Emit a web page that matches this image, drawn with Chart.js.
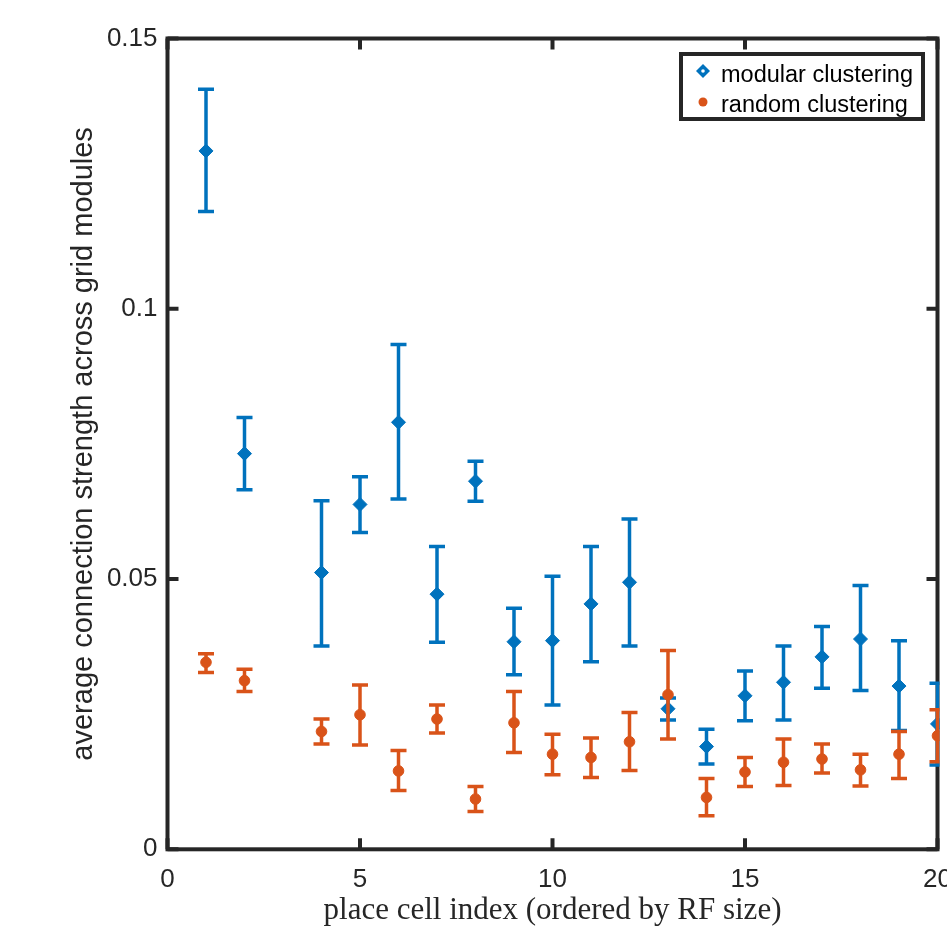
<!DOCTYPE html>
<html>
<head>
<meta charset="utf-8">
<title>connection strength</title>
<script src="https://cdn.jsdelivr.net/npm/chart.js@4.4.1/dist/chart.umd.min.js"></script>
<style>
  html, body { margin: 0; padding: 0; background: #fff; overflow: hidden; }
  #wrap { width: 1000px; height: 938px; }
</style>
</head>
<body>
<div id="wrap"><canvas id="strengthChart" width="1000" height="938"></canvas></div>
<script>
// place cell index (no cell 3 in the figure)
const cellIndex = [1, 2, 4, 5, 6, 7, 8, 9, 10, 11, 12, 13, 14, 15, 16, 17, 18, 19, 20];

// modular clustering: mean and error bar ends
const modularMean = [0.1292, 0.0732, 0.0512, 0.0638, 0.0790, 0.0472, 0.0681, 0.0384, 0.0386, 0.0454,
  0.0494, 0.0260, 0.0190, 0.0284, 0.0309, 0.0356, 0.0389, 0.0302, 0.0232];
const modularHigh = [0.1406, 0.0799, 0.0645, 0.0689, 0.0934, 0.0560, 0.0718, 0.0446, 0.0505, 0.0560,
  0.0611, 0.0280, 0.0222, 0.0330, 0.0376, 0.0412, 0.0488, 0.0386, 0.0307];
const modularLow = [0.1180, 0.0665, 0.0376, 0.0586, 0.0648, 0.0383, 0.0644, 0.0323, 0.0267, 0.0347,
  0.0376, 0.0239, 0.0158, 0.0238, 0.0239, 0.0298, 0.0294, 0.0220, 0.0156];

// random clustering
const randomMean = [0.0346, 0.0312, 0.0218, 0.0249, 0.0145, 0.0241, 0.0093, 0.0234, 0.0176, 0.0170,
  0.0199, 0.0286, 0.0096, 0.0143, 0.0161, 0.0167, 0.0147, 0.0176, 0.0210];
const randomHigh = [0.0362, 0.0333, 0.0241, 0.0304, 0.0183, 0.0267, 0.0116, 0.0292, 0.0213, 0.0206,
  0.0253, 0.0368, 0.0131, 0.0170, 0.0204, 0.0195, 0.0176, 0.0218, 0.0258];
const randomLow = [0.0327, 0.0292, 0.0195, 0.0193, 0.0109, 0.0215, 0.0070, 0.0179, 0.0138, 0.0133,
  0.0146, 0.0204, 0.0062, 0.0116, 0.0118, 0.0141, 0.0117, 0.0131, 0.0162];

const xTickValues = [0, 5, 10, 15, 20];
const xTickLabels = ['0', '5', '10', '15', '20'];
const yTickValues = [0, 0.05, 0.1, 0.15];
const yTickLabels = ['0', '0.05', '0.1', '0.15'];

const AXIS_COLOR = '#262626';
const BLUE = '#0072BD';
const RED = '#D95319';
const SANS = '"Liberation Sans", Arial, sans-serif';

function toPoints(ys) {
  return cellIndex.map((x, i) => ({ x: x, y: ys[i] }));
}

// box + inward ticks on all four sides (MATLAB style)
const frameBox = {
  id: 'frameBox',
  beforeDatasetsDraw(chart) {
    const { ctx, chartArea: a, scales } = chart;
    const len = 11;
    ctx.save();
    ctx.strokeStyle = AXIS_COLOR;
    ctx.lineWidth = 4;
    ctx.lineCap = 'square';
    ctx.strokeRect(a.left, a.top, a.right - a.left, a.bottom - a.top);
    ctx.lineCap = 'butt';
    ctx.beginPath();
    xTickValues.forEach(v => {
      const px = scales.x.getPixelForValue(v);
      ctx.moveTo(px, a.bottom); ctx.lineTo(px, a.bottom - len);
      ctx.moveTo(px, a.top); ctx.lineTo(px, a.top + len);
    });
    yTickValues.forEach(v => {
      const py = scales.y.getPixelForValue(v);
      ctx.moveTo(a.left, py); ctx.lineTo(a.left + len, py);
      ctx.moveTo(a.right, py); ctx.lineTo(a.right - len, py);
    });
    ctx.stroke();
    ctx.restore();
  }
};

// vertical error bars with caps, drawn just before each dataset's markers
const errorBars = {
  id: 'errorBars',
  beforeDatasetDraw(chart, args) {
    const ds = chart.data.datasets[args.index];
    if (!ds.errLow) return;
    const { ctx, chartArea: a, scales } = chart;
    const cap = 8;
    ctx.save();
    ctx.beginPath();
    ctx.rect(0, 0, a.right + 2, chart.height);
    ctx.clip();
    ctx.strokeStyle = ds.borderColor;
    ctx.lineWidth = 3.5;
    ctx.beginPath();
    cellIndex.forEach((x, i) => {
      const px = scales.x.getPixelForValue(x);
      const hi = scales.y.getPixelForValue(ds.errHigh[i]);
      const lo = scales.y.getPixelForValue(ds.errLow[i]);
      ctx.moveTo(px, hi); ctx.lineTo(px, lo);
      ctx.moveTo(px - cap, hi); ctx.lineTo(px + cap, hi);
      ctx.moveTo(px - cap, lo); ctx.lineTo(px + cap, lo);
    });
    ctx.stroke();
    ctx.restore();
  }
};

// legend box in the upper right corner of the axes
const cornerLegend = {
  id: 'cornerLegend',
  afterDraw(chart) {
    const { ctx } = chart;
    const sets = chart.data.datasets;
    ctx.save();
    ctx.fillStyle = '#fff';
    ctx.fillRect(681, 54, 242, 65);
    ctx.strokeStyle = AXIS_COLOR;
    ctx.lineWidth = 4;
    ctx.strokeRect(681, 54, 242, 65);

    // modular: diamond with a light centre
    ctx.fillStyle = sets[0].backgroundColor;
    ctx.beginPath();
    ctx.moveTo(703, 64); ctx.lineTo(710, 71); ctx.lineTo(703, 78); ctx.lineTo(696, 71);
    ctx.closePath();
    ctx.fill();
    ctx.fillStyle = '#fff';
    ctx.beginPath();
    ctx.arc(703, 71, 1.8, 0, Math.PI * 2);
    ctx.fill();

    // random: small dot
    ctx.fillStyle = sets[1].backgroundColor;
    ctx.beginPath();
    ctx.arc(703, 102, 4.5, 0, Math.PI * 2);
    ctx.fill();

    ctx.fillStyle = '#000';
    ctx.font = '23.5px ' + SANS;
    ctx.textBaseline = 'alphabetic';
    ctx.textAlign = 'left';
    ctx.fillText(sets[0].label, 721, 81.5);
    ctx.fillText(sets[1].label, 721, 111.5);
    ctx.restore();
  }
};

const ctx = document.getElementById('strengthChart').getContext('2d');
new Chart(ctx, {
  type: 'scatter',
  data: {
    datasets: [
      {
        label: 'modular clustering',
        data: toPoints(modularMean),
        errLow: modularLow,
        errHigh: modularHigh,
        pointStyle: 'rectRot',
        pointRadius: 7,
        borderWidth: 1,
        backgroundColor: BLUE,
        borderColor: BLUE,
        order: 1,
        clip: { left: 20, top: 20, right: 2, bottom: 20 }
      },
      {
        label: 'random clustering',
        data: toPoints(randomMean),
        errLow: randomLow,
        errHigh: randomHigh,
        pointStyle: 'circle',
        pointRadius: 5.3,
        borderWidth: 1,
        backgroundColor: RED,
        borderColor: RED,
        order: 0,
        clip: { left: 20, top: 20, right: 2, bottom: 20 }
      }
    ]
  },
  options: {
    responsive: false,
    animation: false,
    devicePixelRatio: 1,
    layout: { padding: { left: 0, top: 38.5, right: 62.5, bottom: 0 } },
    plugins: {
      legend: { display: false },
      tooltip: { enabled: false }
    },
    scales: {
      x: {
        type: 'linear',
        min: 0,
        max: 20,
        grid: { display: false, drawTicks: false },
        border: { display: false },
        afterBuildTicks: s => { s.ticks = xTickValues.map(v => ({ value: v })); },
        afterFit: s => { s.height = 938 - 849.3; },
        ticks: {
          color: AXIS_COLOR,
          padding: 15,
          maxRotation: 0,
          font: { family: SANS, size: 26 },
          callback: v => xTickLabels[xTickValues.indexOf(v)]
        },
        title: {
          display: true,
          text: 'place cell index (ordered by RF size)',
          color: AXIS_COLOR,
          font: { family: '"Liberation Serif", serif', size: 31 },
          padding: { top: 0, bottom: 9 }
        }
      },
      y: {
        type: 'linear',
        min: 0,
        max: 0.15,
        grid: { display: false, drawTicks: false },
        border: { display: false },
        afterBuildTicks: s => { s.ticks = yTickValues.map(v => ({ value: v })); },
        afterFit: s => { s.width = 167.5; },
        ticks: {
          color: AXIS_COLOR,
          padding: 10,
          font: { family: SANS, size: 26 },
          callback: v => yTickLabels[yTickValues.indexOf(v)]
        },
        title: {
          display: true,
          text: 'average connection strength across grid modules',
          color: AXIS_COLOR,
          font: { family: SANS, size: 29 },
          padding: { top: 67, bottom: 0 }
        }
      }
    }
  },
  plugins: [frameBox, errorBars, cornerLegend]
});
</script>
</body>
</html>
